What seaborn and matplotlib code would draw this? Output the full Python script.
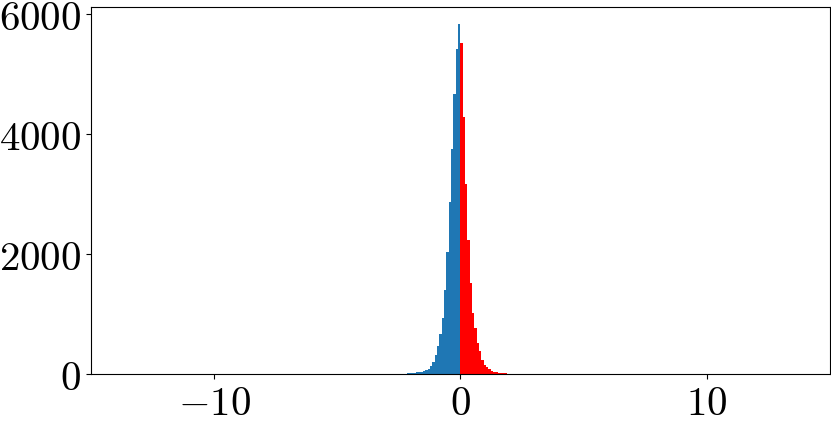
import numpy as np
import pandas as pd
import matplotlib
matplotlib.use("Agg")
import matplotlib.pyplot as plt
from matplotlib.ticker import FuncFormatter
import seaborn as sns

plt.rcParams['mathtext.fontset'] = 'cm'
plt.rcParams['font.family'] = ['DejaVu Serif']

# histogram: bin width and counts going outward from 0
bin_width = 0.095
# negative side, first value is the bin just left of 0
neg_counts = [5828, 5417, 4662, 3750, 2872, 2038, 1400, 938, 667, 472, 317, 205,
              133, 90, 62, 45, 36, 31, 27, 23, 19, 15, 11, 7, 4]
# positive side, first value is the bin just right of 0
pos_counts = [5512, 4288, 3167, 2233, 1511, 1022, 761, 511, 389, 233, 150, 111,
              78, 55, 40, 30, 24, 19, 15, 11, 8, 5]
x_ticks = [-10, 0, 10]
y_ticks = [0, 2000, 4000, 6000]

# bins
neg_edges = -np.arange(len(neg_counts) + 1)[::-1] * bin_width
pos_edges = np.arange(len(pos_counts) + 1) * bin_width
neg_df = pd.DataFrame({'x': (neg_edges[:-1] + neg_edges[1:]) / 2,
                       'n': neg_counts[::-1]})
pos_df = pd.DataFrame({'x': (pos_edges[:-1] + pos_edges[1:]) / 2,
                       'n': pos_counts})

fig = plt.figure(figsize=(8.31, 4.24), dpi=100)
ax = fig.add_axes([0.1095, 0.1179, 0.889, 0.8656])

sns.histplot(data=neg_df, x='x', weights='n', bins=list(neg_edges),
             color='#1f77b4', alpha=1, linewidth=0, ax=ax)
sns.histplot(data=pos_df, x='x', weights='n', bins=list(pos_edges),
             color='red', alpha=1, linewidth=0, ax=ax)

ax.set_xlim(-15, 15)
ax.set_xticks(x_ticks)
ax.set_yticks(y_ticks)
fmt = FuncFormatter(lambda v, p: r'$%g$' % v)
ax.xaxis.set_major_formatter(fmt)
ax.yaxis.set_major_formatter(fmt)
ax.tick_params(labelsize=29.5)
ax.set_xlabel('')
ax.set_ylabel('')

plt.savefig('out.png', dpi=100)
